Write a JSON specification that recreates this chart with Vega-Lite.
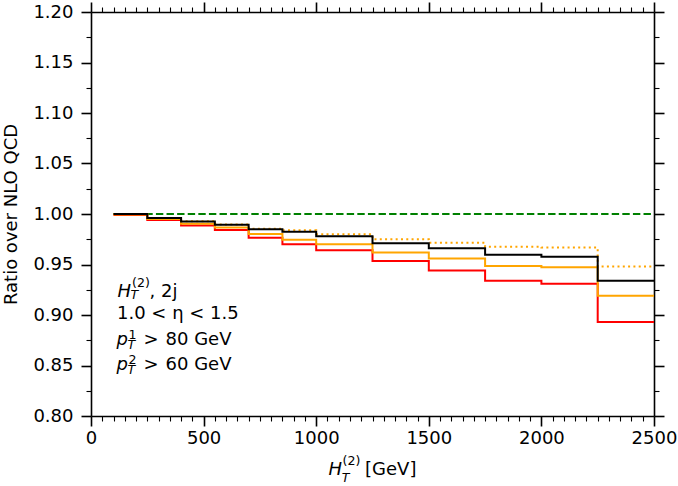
{
  "$schema": "https://vega.github.io/schema/vega-lite/v6.json",
  "width": 563,
  "height": 404,
  "autosize": {"type": "none"},
  "padding": {"left": 91, "top": 12, "right": 24, "bottom": 70},
  "background": "white",
  "config": {
    "view": {"stroke": null},
    "font": "DejaVu Sans",
    "axis": {
      "grid": false,
      "domainColor": "black",
      "domainWidth": 1.6,
      "tickColor": "black",
      "labelColor": "black",
      "labelFont": "DejaVu Sans",
      "labelFontSize": 18,
      "titleFont": "DejaVu Sans",
      "titleFontSize": 18,
      "titleFontWeight": "normal",
      "titleColor": "black",
      "labelOverlap": false,
      "labelBound": false,
      "labelFlush": false
    }
  },
  "datasets": {
    "reference": [
      {"ht": 100, "ratio": 1.0},
      {"ht": 2500, "ratio": 1.0}
    ],
    "ratios": [
      {"series": "s1", "ht": 100, "ratio": 0.999},
      {"series": "s1", "ht": 250, "ratio": 0.994},
      {"series": "s1", "ht": 400, "ratio": 0.9887},
      {"series": "s1", "ht": 550, "ratio": 0.9841},
      {"series": "s1", "ht": 700, "ratio": 0.9765},
      {"series": "s1", "ht": 850, "ratio": 0.970},
      {"series": "s1", "ht": 1000, "ratio": 0.964},
      {"series": "s1", "ht": 1250, "ratio": 0.9534},
      {"series": "s1", "ht": 1500, "ratio": 0.944},
      {"series": "s1", "ht": 1750, "ratio": 0.9338},
      {"series": "s1", "ht": 2000, "ratio": 0.9309},
      {"series": "s1", "ht": 2250, "ratio": 0.893},
      {"series": "s1", "ht": 2500, "ratio": 0.893},
      {"series": "s2", "ht": 100, "ratio": 0.9995},
      {"series": "s2", "ht": 250, "ratio": 0.995},
      {"series": "s2", "ht": 400, "ratio": 0.9904},
      {"series": "s2", "ht": 550, "ratio": 0.9867},
      {"series": "s2", "ht": 700, "ratio": 0.9803},
      {"series": "s2", "ht": 850, "ratio": 0.9745},
      {"series": "s2", "ht": 1000, "ratio": 0.970},
      {"series": "s2", "ht": 1250, "ratio": 0.962},
      {"series": "s2", "ht": 1500, "ratio": 0.956},
      {"series": "s2", "ht": 1750, "ratio": 0.9484},
      {"series": "s2", "ht": 2000, "ratio": 0.9474},
      {"series": "s2", "ht": 2250, "ratio": 0.919},
      {"series": "s2", "ht": 2500, "ratio": 0.919},
      {"series": "s3", "ht": 100, "ratio": 1.0},
      {"series": "s3", "ht": 250, "ratio": 0.996},
      {"series": "s3", "ht": 400, "ratio": 0.9927},
      {"series": "s3", "ht": 550, "ratio": 0.9897},
      {"series": "s3", "ht": 700, "ratio": 0.9855},
      {"series": "s3", "ht": 850, "ratio": 0.9838},
      {"series": "s3", "ht": 1000, "ratio": 0.980},
      {"series": "s3", "ht": 1250, "ratio": 0.975},
      {"series": "s3", "ht": 1500, "ratio": 0.9716},
      {"series": "s3", "ht": 1750, "ratio": 0.9676},
      {"series": "s3", "ht": 2000, "ratio": 0.9668},
      {"series": "s3", "ht": 2250, "ratio": 0.948},
      {"series": "s3", "ht": 2500, "ratio": 0.948},
      {"series": "s4", "ht": 100, "ratio": 1.0},
      {"series": "s4", "ht": 250, "ratio": 0.996},
      {"series": "s4", "ht": 400, "ratio": 0.9925},
      {"series": "s4", "ht": 550, "ratio": 0.9894},
      {"series": "s4", "ht": 700, "ratio": 0.9849},
      {"series": "s4", "ht": 850, "ratio": 0.9825},
      {"series": "s4", "ht": 1000, "ratio": 0.978},
      {"series": "s4", "ht": 1250, "ratio": 0.971},
      {"series": "s4", "ht": 1500, "ratio": 0.966},
      {"series": "s4", "ht": 1750, "ratio": 0.9597},
      {"series": "s4", "ht": 2000, "ratio": 0.9577},
      {"series": "s4", "ht": 2250, "ratio": 0.9338},
      {"series": "s4", "ht": 2500, "ratio": 0.9338}
    ],
    "notes": [
      {"piece": "H", "kind": "math", "ht": 117.7, "ratio": 0.9183},
      {"piece": "T", "kind": "sub", "ht": 175.5, "ratio": 0.9155},
      {"piece": "(2)", "kind": "sup", "ht": 182.2, "ratio": 0.9274},
      {"piece": ", 2j", "kind": "plain", "ht": 260, "ratio": 0.9183},
      {"piece": "1.0 < η < 1.5", "kind": "plain", "ht": 115.5, "ratio": 0.8962},
      {"piece": "p", "kind": "math", "ht": 113.3, "ratio": 0.8707},
      {"piece": "T", "kind": "sub", "ht": 162, "ratio": 0.8664},
      {"piece": "1", "kind": "sup", "ht": 166, "ratio": 0.8763},
      {"piece": ">", "kind": "plain", "ht": 233, "ratio": 0.8707},
      {"piece": "80 GeV", "kind": "plain", "ht": 331, "ratio": 0.8707},
      {"piece": "p", "kind": "math", "ht": 113.3, "ratio": 0.8454},
      {"piece": "T", "kind": "sub", "ht": 162, "ratio": 0.8411},
      {"piece": "2", "kind": "sup", "ht": 166, "ratio": 0.851},
      {"piece": ">", "kind": "plain", "ht": 233, "ratio": 0.8454},
      {"piece": "60 GeV", "kind": "plain", "ht": 331, "ratio": 0.8454},
      {"piece": "H", "kind": "math", "ht": 1055, "ratio": 0.7414},
      {"piece": "T", "kind": "sub", "ht": 1113, "ratio": 0.7345},
      {"piece": "(2)", "kind": "sup", "ht": 1117, "ratio": 0.7514},
      {"piece": "[GeV]", "kind": "plain", "ht": 1217, "ratio": 0.7414}
    ]
  },
  "layer": [
    {
      "data": {"name": "reference"},
      "mark": {"type": "line", "color": "#008000", "strokeWidth": 2, "strokeDash": [7.4, 3.2], "interpolate": "step-after"},
      "encoding": {
        "x": {
          "field": "ht", "type": "quantitative",
          "scale": {"domain": [0, 2500], "nice": false, "zero": false},
          "axis": {
            "orient": "top", "title": null, "labels": false,
            "values": [0,50,100,150,200,250,300,350,400,450,500,550,600,650,700,750,800,850,900,950,1000,1050,1100,1150,1200,1250,1300,1350,1400,1450,1500,1550,1600,1650,1700,1750,1800,1850,1900,1950,2000,2050,2100,2150,2200,2250,2300,2350,2400,2450,2500],
            "tickSize": {"condition": {"test": "datum.value % 500 === 0", "value": 10}, "value": 5},
            "tickWidth": {"condition": {"test": "datum.value % 500 === 0", "value": 1.6}, "value": 1.1}
          }
        },
        "y": {
          "field": "ratio", "type": "quantitative",
          "scale": {"domain": [0.8, 1.2], "nice": false, "zero": false},
          "axis": {
            "orient": "right", "title": null, "labels": false,
            "values": [0.8,0.825,0.85,0.875,0.9,0.925,0.95,0.975,1.0,1.025,1.05,1.075,1.1,1.125,1.15,1.175,1.2],
            "tickSize": {"condition": {"test": "round(datum.value * 1000) % 50 === 0", "value": 10}, "value": 5},
            "tickWidth": {"condition": {"test": "round(datum.value * 1000) % 50 === 0", "value": 1.6}, "value": 1.1}
          }
        }
      }
    },
    {
      "data": {"name": "ratios"},
      "transform": [{"filter": "datum.series === 's1'"}],
      "mark": {"type": "line", "color": "#ff0000", "strokeWidth": 2, "interpolate": "step-after"},
      "encoding": {
        "x": {"field": "ht", "type": "quantitative", "axis": null},
        "y": {"field": "ratio", "type": "quantitative", "axis": null}
      }
    },
    {
      "data": {"name": "ratios"},
      "transform": [{"filter": "datum.series === 's2'"}],
      "mark": {"type": "line", "color": "#ffa500", "strokeWidth": 2, "interpolate": "step-after"},
      "encoding": {
        "x": {"field": "ht", "type": "quantitative", "axis": null},
        "y": {"field": "ratio", "type": "quantitative", "axis": null}
      }
    },
    {
      "data": {"name": "ratios"},
      "transform": [{"filter": "datum.series === 's3'"}],
      "mark": {"type": "line", "color": "#ffa500", "strokeWidth": 2, "strokeDash": [2, 3.3], "interpolate": "step-after"},
      "encoding": {
        "x": {"field": "ht", "type": "quantitative", "axis": null},
        "y": {"field": "ratio", "type": "quantitative", "axis": null}
      }
    },
    {
      "data": {"name": "ratios"},
      "transform": [{"filter": "datum.series === 's4'"}],
      "mark": {"type": "line", "color": "#000000", "strokeWidth": 2, "interpolate": "step-after"},
      "encoding": {
        "x": {
          "field": "ht", "type": "quantitative",
          "axis": {
            "orient": "bottom", "title": null, "labelPadding": 3,
            "values": [0,50,100,150,200,250,300,350,400,450,500,550,600,650,700,750,800,850,900,950,1000,1050,1100,1150,1200,1250,1300,1350,1400,1450,1500,1550,1600,1650,1700,1750,1800,1850,1900,1950,2000,2050,2100,2150,2200,2250,2300,2350,2400,2450,2500],
            "format": "d",
            "labelExpr": "datum.value % 500 === 0 ? datum.label : ''",
            "tickSize": {"condition": {"test": "datum.value % 500 === 0", "value": 10}, "value": 5},
            "tickWidth": {"condition": {"test": "datum.value % 500 === 0", "value": 1.6}, "value": 1.1}
          }
        },
        "y": {
          "field": "ratio", "type": "quantitative",
          "axis": {
            "orient": "left", "title": "Ratio over NLO QCD", "titlePadding": 12, "labelPadding": 8,
            "values": [0.8,0.825,0.85,0.875,0.9,0.925,0.95,0.975,1.0,1.025,1.05,1.075,1.1,1.125,1.15,1.175,1.2],
            "format": ".2f",
            "labelExpr": "round(datum.value * 1000) % 50 === 0 ? datum.label : ''",
            "tickSize": {"condition": {"test": "round(datum.value * 1000) % 50 === 0", "value": 10}, "value": 5},
            "tickWidth": {"condition": {"test": "round(datum.value * 1000) % 50 === 0", "value": 1.6}, "value": 1.1}
          }
        }
      }
    },
    {
      "data": {"name": "notes"},
      "transform": [{"filter": "datum.kind === 'math'"}],
      "mark": {"type": "text", "align": "left", "baseline": "alphabetic", "font": "DejaVu Sans", "fontSize": 18, "fontStyle": "italic", "color": "black"},
      "encoding": {
        "x": {"field": "ht", "type": "quantitative", "axis": null},
        "y": {"field": "ratio", "type": "quantitative", "axis": null},
        "text": {"field": "piece"}
      }
    },
    {
      "data": {"name": "notes"},
      "transform": [{"filter": "datum.kind === 'sub'"}],
      "mark": {"type": "text", "align": "left", "baseline": "alphabetic", "font": "DejaVu Sans", "fontSize": 12.6, "fontStyle": "italic", "color": "black"},
      "encoding": {
        "x": {"field": "ht", "type": "quantitative", "axis": null},
        "y": {"field": "ratio", "type": "quantitative", "axis": null},
        "text": {"field": "piece"}
      }
    },
    {
      "data": {"name": "notes"},
      "transform": [{"filter": "datum.kind === 'sup'"}],
      "mark": {"type": "text", "align": "left", "baseline": "alphabetic", "font": "DejaVu Sans", "fontSize": 12.6, "color": "black"},
      "encoding": {
        "x": {"field": "ht", "type": "quantitative", "axis": null},
        "y": {"field": "ratio", "type": "quantitative", "axis": null},
        "text": {"field": "piece"}
      }
    },
    {
      "data": {"name": "notes"},
      "transform": [{"filter": "datum.kind === 'plain'"}],
      "mark": {"type": "text", "align": "left", "baseline": "alphabetic", "font": "DejaVu Sans", "fontSize": 18, "color": "black"},
      "encoding": {
        "x": {"field": "ht", "type": "quantitative", "axis": null},
        "y": {"field": "ratio", "type": "quantitative", "axis": null},
        "text": {"field": "piece"}
      }
    }
  ],
  "resolve": {"axis": {"x": "independent", "y": "independent"}}
}
